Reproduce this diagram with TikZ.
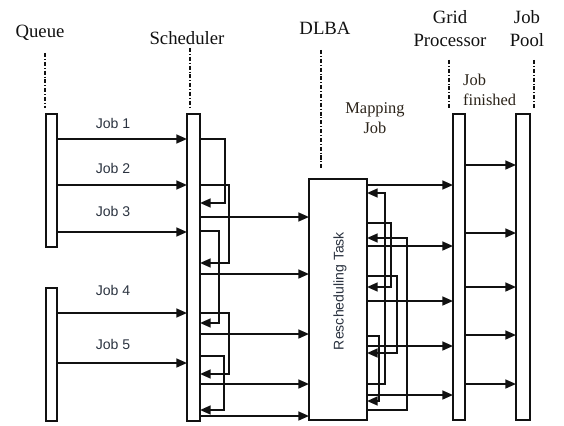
\documentclass[tikz,border=0pt]{standalone}
\usepackage{fontspec}
\setmainfont{Liberation Serif}
\newfontfamily\labelfont{Liberation Sans}
\usepackage{xcolor}
\usetikzlibrary{arrows.meta, calc}
\definecolor{inkC}{HTML}{111111}
\definecolor{labelC}{HTML}{2B3340}
\definecolor{noteC}{HTML}{2A2218}

\begin{document}
\begin{tikzpicture}[
  x=0.03cm,
  y=-0.03cm,
  line cap=butt,
  line join=miter,
  bar/.style={draw=inkC, fill=white, line width=1.4pt, inner sep=0pt, outer sep=0pt, anchor=north west},
  flow/.style={draw=inkC, line width=1.55pt, -{Triangle[length=9pt, width=7.5pt]}},
  lifeline/.style={draw=inkC, line width=1pt, dash pattern=on 3.5pt off 1.6pt on 0.8pt off 1.6pt},
  title/.style={text=inkC, font=\fontsize{16}{19.5}\selectfont, align=center, inner sep=0pt},
  note/.style={text=noteC, font=\fontsize{14}{17}\selectfont, inner sep=0pt},
  joblabel/.style={text=labelC, font=\labelfont\fontsize{12}{14}\selectfont, inner sep=0pt}
]

\useasboundingbox (0,0) rectangle (564,426);

% Titles
\node[title] (queueT) at (40,33) {Queue};
\node[title] (schedT) at (187,38) {Scheduler};
\node[title] (dlbaT) at (325,28) {DLBA};
\node[title] (gridT) at (450,28.5) {Grid\\Processor};
\node[title] (poolT) at (527,28.5) {Job\\Pool};

% Lifelines
\draw[lifeline] (45,53) -- (45,108);
\draw[lifeline] (190,48) -- (190,108);
\draw[lifeline] (321,50) -- (321,170);
\draw[lifeline] (449,60) -- (449,108);
\draw[lifeline] (534,60) -- (534,108);

% Activation bars
\node[bar, minimum width=0.33cm, minimum height=3.99cm] (queueA) at (46,114) {};
\node[bar, minimum width=0.33cm, minimum height=3.99cm] (queueB) at (46,288) {};
\node[bar, minimum width=0.39cm, minimum height=9.21cm] (sched) at (187,114) {};
\node[bar, minimum width=1.74cm, minimum height=7.23cm] (dlba) at (309,179) {};
\node[bar, minimum width=0.36cm, minimum height=9.18cm] (grid) at (453,114) {};
\node[bar, minimum width=0.42cm, minimum height=9.18cm] (pool) at (516,114) {};

\node[joblabel, rotate=90] (resched) at (340,291) {Rescheduling Task};

% Jobs from the queue
\foreach \yy in {139,185,232}{
  \draw[flow] (queueA.east |- 0,\yy) -- (sched.west |- 0,\yy);
}
\foreach \yy in {313,363}{
  \draw[flow] (queueB.east |- 0,\yy) -- (sched.west |- 0,\yy);
}
\node[joblabel] (job1) at (113,123) {Job 1};
\node[joblabel] (job2) at (113,168) {Job 2};
\node[joblabel] (job3) at (113,211) {Job 3};
\node[joblabel] (job4) at (113,290) {Job 4};
\node[joblabel] (job5) at (113,344) {Job 5};

% Scheduler self loops
\foreach \ya/\xa/\yb in {139/225/203, 185/229/263, 231/219/323, 313/229/374, 356/224/410}{
  \draw[flow] (sched.east |- 0,\ya) -| (\xa,\yb) -- (sched.east |- 0,\yb);
}

% Scheduler to DLBA
\foreach \yy in {217,274,334,384,416}{
  \draw[flow] (sched.east |- 0,\yy) -- (dlba.west |- 0,\yy);
}

% Mapping jobs to the grid
\foreach \yy in {185,246,301,346,395}{
  \draw[flow] (dlba.east |- 0,\yy) -- (grid.west |- 0,\yy);
}

% Rescheduling loops
\foreach \ya/\xa/\yb in {223/391/287, 276/397/353, 336/379/401, 384/385/193, 410/407/238}{
  \draw[flow] (dlba.east |- 0,\ya) -| (\xa,\yb) -- (dlba.east |- 0,\yb);
}

% Finished jobs
\foreach \yy in {165,233,287,335,384}{
  \draw[flow] (grid.east |- 0,\yy) -- (pool.west |- 0,\yy);
}

% Notes
\node[note, align=center] (mapN) at (375,118) {Mapping\\Job};
\node[note, align=left, anchor=west] (finN) at (463,90) {Job\\finished};

\end{tikzpicture}
\end{document}
